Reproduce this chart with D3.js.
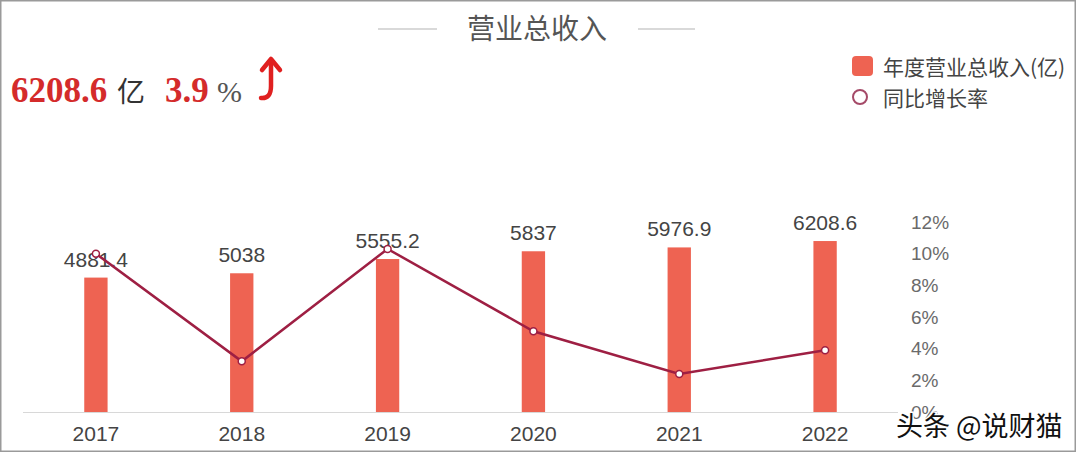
<!DOCTYPE html>
<html lang="zh">
<head>
<meta charset="utf-8">
<script src="https://d3js.org/d3.v7.min.js"></script>
<style>
body { margin: 0; background: #fff; }
svg text { font-family: "Liberation Sans", "Noto Sans CJK SC", sans-serif; }
.cjk { font-family: "Noto Sans CJK SC", sans-serif !important; }
.serif { font-family: "Liberation Serif", "DejaVu Serif", serif !important; }
</style>
</head>
<body>
<svg width="1080" height="453"></svg>
<script>
// data
var years = ["2017", "2018", "2019", "2020", "2021", "2022"];
var revenue = [4881.4, 5038, 5555.2, 5837, 5976.9, 6208.6];
var growth = [10.0, 3.2, 10.3, 5.1, 2.4, 3.9];
var pctTicks = [0, 2, 4, 6, 8, 10, 12];
var legendLabels = ["年度营业总收入(亿)", "同比增长率"];

var barColor = "#ee6352",
    lineColor = "#9e1f43";

var svg = d3.select("svg");

// frame
svg.append("rect")
    .attr("x", 0.75).attr("y", 0.75).attr("width", 1074.5).attr("height", 450.5)
    .attr("fill", "none").attr("stroke", "#9a9a9a").attr("stroke-width", 1.5);

var x = d3.scaleBand().domain(years).range([23, 898]).paddingInner(0.84).paddingOuter(0.42);
var yBar = d3.scaleLinear().domain([0, 6900]).range([412, 222]);
var yPct = d3.scaleLinear().domain([0, 12]).range([412, 222]);

// baseline
svg.append("line")
    .attr("x1", 23).attr("x2", 898).attr("y1", 412.5).attr("y2", 412.5)
    .attr("stroke", "#d8d8d8").attr("stroke-width", 1);

// bars
svg.selectAll(".bar")
  .data(revenue)
  .enter().append("rect")
    .attr("class", "bar")
    .attr("x", function(d, i) { return x(years[i]); })
    .attr("y", function(d) { return yBar(d); })
    .attr("width", x.bandwidth())
    .attr("height", function(d) { return 412 - yBar(d); })
    .attr("fill", barColor);

// bar labels
svg.selectAll(".blabel")
  .data(revenue)
  .enter().append("text")
    .attr("x", function(d, i) { return x(years[i]) + x.bandwidth() / 2; })
    .attr("y", function(d) { return yBar(d) - 11; })
    .attr("text-anchor", "middle")
    .attr("font-size", 21)
    .attr("fill", "#444")
    .text(function(d) { return d; });

// x axis labels
var xAxis = svg.append("g")
    .attr("transform", "translate(0,412)")
    .call(d3.axisBottom(x).tickSize(0).tickPadding(14));
xAxis.select(".domain").remove();
xAxis.selectAll("text").attr("font-size", 21).attr("fill", "#444").attr("dy", "0.71em")
    .style("font-family", "Liberation Sans, sans-serif");

// right axis
var yAxis = svg.append("g")
    .attr("transform", "translate(911,0)")
    .call(d3.axisRight(yPct).tickValues(pctTicks).tickSize(0).tickPadding(0)
      .tickFormat(function(d) { return d + "%"; }));
yAxis.select(".domain").remove();
yAxis.selectAll("text").attr("font-size", 19).attr("fill", "#6a6a6a")
    .style("font-family", "Liberation Sans, sans-serif");

// growth line
var line = d3.line()
    .x(function(d, i) { return x(years[i]) + x.bandwidth() / 2; })
    .y(function(d) { return yPct(d); });

svg.append("path")
    .datum(growth)
    .attr("d", line)
    .attr("fill", "none")
    .attr("stroke", lineColor)
    .attr("stroke-width", 2.5);

svg.selectAll(".pt")
  .data(growth)
  .enter().append("circle")
    .attr("cx", function(d, i) { return x(years[i]) + x.bandwidth() / 2; })
    .attr("cy", function(d) { return yPct(d); })
    .attr("r", 3.5)
    .attr("fill", "#fff")
    .attr("stroke", lineColor)
    .attr("stroke-width", 1.5);

// title
svg.append("text")
    .attr("class", "cjk")
    .attr("x", 537).attr("y", 39)
    .attr("text-anchor", "middle")
    .attr("font-size", 28)
    .attr("fill", "#555")
    .text("营业总收入");
svg.append("line").attr("x1", 378).attr("x2", 437).attr("y1", 29).attr("y2", 29)
    .attr("stroke", "#ccc").attr("stroke-width", 1.5);
svg.append("line").attr("x1", 638).attr("x2", 695).attr("y1", 29).attr("y2", 29)
    .attr("stroke", "#ccc").attr("stroke-width", 1.5);

// headline figures
svg.append("text").attr("class", "serif").attr("x", 11).attr("y", 102)
    .attr("font-size", 35).attr("font-weight", "bold").attr("fill", "#d42b2b")
    .text(revenue[revenue.length - 1]);
svg.append("text").attr("class", "cjk").attr("x", 117).attr("y", 102)
    .attr("font-size", 28).attr("fill", "#333").text("亿");
svg.append("text").attr("class", "serif").attr("x", 165).attr("y", 102)
    .attr("font-size", 35).attr("font-weight", "bold").attr("fill", "#d42b2b")
    .text(growth[growth.length - 1]);
svg.append("text").attr("class", "serif").attr("x", 217).attr("y", 102)
    .attr("font-size", 30).attr("fill", "#555").text("%");

// up arrow
svg.append("path")
    .attr("d", "M261,98 Q271,99 271,86 L271,62")
    .attr("fill", "none").attr("stroke", "#e02020").attr("stroke-width", 4.5)
    .attr("stroke-linecap", "round");
svg.append("path")
    .attr("d", "M262,70 L271,59 L280,70")
    .attr("fill", "none").attr("stroke", "#e02020").attr("stroke-width", 4.5)
    .attr("stroke-linecap", "round").attr("stroke-linejoin", "round");

// legend
svg.append("rect").attr("x", 852).attr("y", 56).attr("width", 21).attr("height", 20)
    .attr("rx", 4).attr("fill", barColor);
svg.append("circle").attr("cx", 860).attr("cy", 97).attr("r", 7)
    .attr("fill", "#fff").attr("stroke", "#a54a68").attr("stroke-width", 2);
svg.selectAll(".leg")
  .data(legendLabels)
  .enter().append("text")
    .attr("class", "cjk")
    .attr("x", 883)
    .attr("y", function(d, i) { return 75 + i * 31; })
    .attr("font-size", 21)
    .attr("fill", "#444")
    .text(function(d) { return d; });

// watermark
svg.append("text")
    .attr("class", "cjk")
    .attr("x", 896).attr("y", 436)
    .attr("font-size", 27)
    .attr("fill", "#111")
    .attr("stroke", "#fff").attr("stroke-width", 3).attr("paint-order", "stroke")
    .text("头条 @说财猫");
</script>
</body>
</html>
